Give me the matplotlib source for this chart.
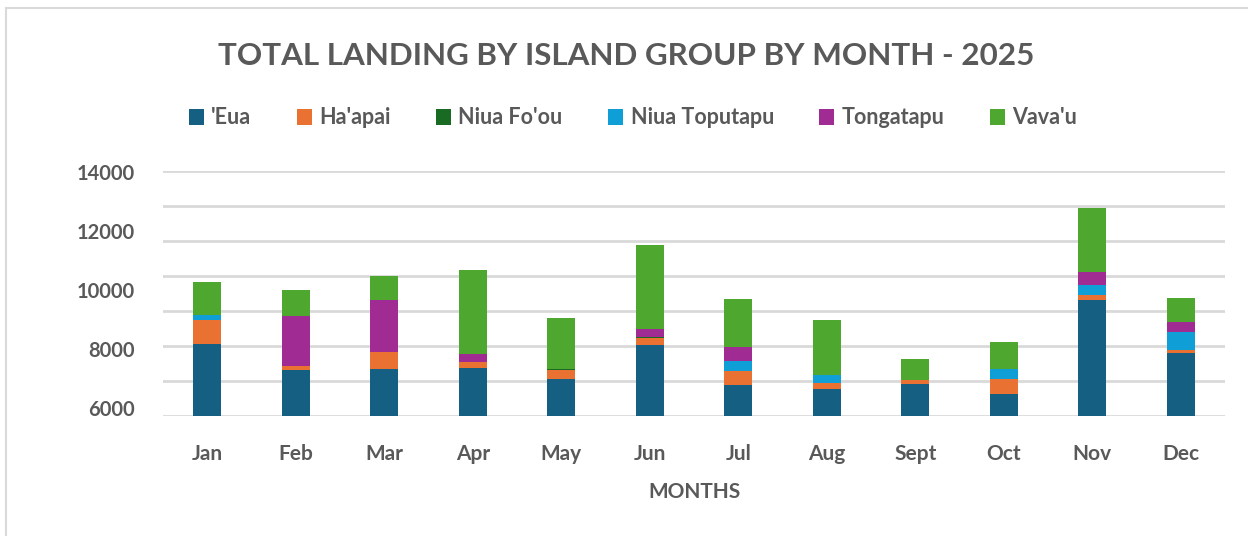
import numpy as np
import matplotlib
matplotlib.use('Agg')
from matplotlib import pyplot as plt
from matplotlib.patches import Rectangle, Patch

#Data
months = ['Jan', 'Feb', 'Mar', 'Apr', 'May', 'Jun', 'Jul', 'Aug', 'Sept', 'Oct', 'Nov', 'Dec']
eua = [4130, 2650, 2700, 2760, 2130, 4070, 1790, 1560, 1850, 1270, 6650, 3620]
haapai = [1370, 230, 970, 340, 510, 420, 800, 340, 250, 860, 290, 170]
niua_foou = [0, 0, 0, 0, 50, 40, 0, 0, 0, 0, 0, 0]
niua_toputapu = [290, 0, 0, 0, 0, 0, 570, 460, 0, 570, 570, 1030]
tongatapu = [0, 2860, 2970, 460, 0, 440, 800, 0, 0, 0, 740, 570]
vavau = [1890, 1490, 1370, 4800, 2900, 4800, 2740, 3140, 1180, 1540, 3660, 1370]

series_names = ["'Eua", "Ha'apai", "Niua Fo'ou", "Niua Toputapu", "Tongatapu", "Vava'u"]
colors = ['#156082', '#E97132', '#196B24', '#0F9ED5', '#A02B93', '#4EA72E']
ytick_labels = ['6000', '8000', '10000', '12000', '14000']

text_gray = '#595959'
plt.rcParams['font.family'] = ['Lato', 'DejaVu Sans']
plt.rcParams['font.weight'] = 'bold'

fig = plt.figure(figsize=(12.48, 5.36), dpi=100)
ax = fig.add_axes([163/1248, 1-416.3/536, (1225-163)/1248, (416.3-171.3)/536])

x = np.arange(len(months))
bottom = np.zeros(len(months))
for name, vals, c in zip(series_names, [eua, haapai, niua_foou, niua_toputapu, tongatapu, vavau], colors):
    ax.bar(x, vals, 0.32, bottom=bottom, color=c, label=name, zorder=3)
    bottom += np.array(vals)

ax.set_xlim(-0.5, len(months)-0.5)
ax.set_ylim(0, 14000)
ax.set_xticks(x)
ax.set_xticklabels(months, fontsize=15, color=text_gray, fontweight='bold')
ax.tick_params(axis='x', length=0, pad=20)

#gridlines on the 2000 steps, labels placed as they sit in the original
ax.set_yticks(np.arange(0, 14001, 2000), minor=True)
ax.set_yticks(np.linspace(480, 13960, len(ytick_labels)))
ax.set_yticklabels(ytick_labels, fontsize=14.5, color=text_gray, fontweight='bold')
ax.tick_params(axis='y', which='both', length=0, pad=20)
ax.grid(axis='y', which='minor', color='#D9D9D9', linewidth=2, zorder=0)
ax.grid(axis='y', which='major', visible=False)
ax.grid(axis='x', visible=False)
for s in ax.spines.values():
    s.set_visible(False)

ax.set_xlabel('MONTHS', fontsize=15, color=text_gray, fontweight='bold', labelpad=13)

fig.text(626/1248, 1-56/536, 'TOTAL LANDING BY ISLAND GROUP BY MONTH - 2025', ha='center', va='center',
         fontsize=22.6, color=text_gray, fontweight='bold')

handles = [Patch(facecolor=c, label=n) for n, c in zip(series_names, colors)]
leg = fig.legend(handles=handles, loc='center', bbox_to_anchor=(633/1248, 1-118/536), ncol=6,
                 frameon=False, fontsize=15.5, handlelength=0.7, handleheight=0.7,
                 handletextpad=0.35, columnspacing=2.1)
for t in leg.get_texts():
    t.set_color(text_gray)
    t.set_fontweight('bold')

#chart border (only top and left edges visible in the crop)
fig.patches.append(Rectangle((6/1248, -0.1), 1.2, 1-8/536+0.1, transform=fig.transFigure,
                             fill=False, edgecolor='#D9D9D9', linewidth=1.5))

fig.savefig('out.png', dpi=100)
